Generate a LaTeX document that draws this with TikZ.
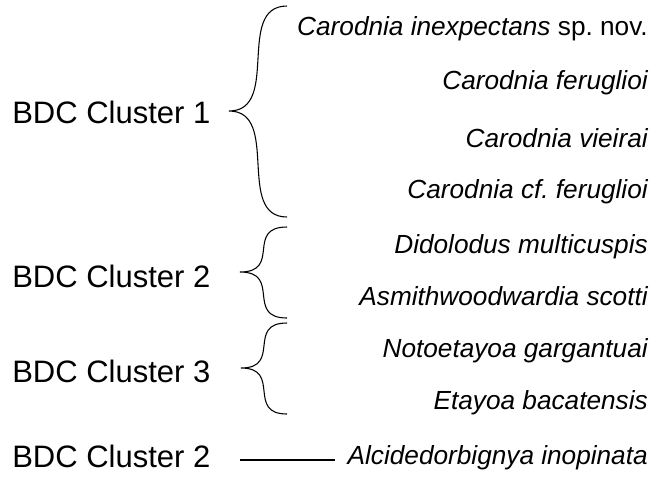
\documentclass[tikz,border=0pt]{standalone}
\usepackage{fontspec}
\setmainfont{Liberation Sans}
\frenchspacing
\begin{document}
\begin{tikzpicture}[x=0.75pt,y=-0.75pt,
  cluster/.style={anchor=base west,inner sep=0pt,font=\fontsize{23.25}{28}\selectfont},
  species/.style={anchor=base east,inner sep=0pt,font=\fontsize{19.65}{24}\selectfont\itshape},
  bracepath/.style={draw=black,line width=0.8pt},
  linkline/.style={draw=black,line width=0.8pt}]
\useasboundingbox (0,0) rectangle (652,480);
% left labels
\node[cluster] (c1) at (12,123) {BDC Cluster 1};
\node[cluster] (c2) at (12,287) {BDC Cluster 2};
\node[cluster] (c3) at (12,382) {BDC Cluster 3};
\node[cluster] (c4) at (12,467) {BDC Cluster 2};
% right labels
\node[species] (s1) at (648,35) {Carodnia inexpectans\upshape{} sp.\ nov.};
\node[species] (s2) at (648,89) {Carodnia feruglioi};
\node[species] (s3) at (648,147) {Carodnia vieirai};
\node[species] (s4) at (648,198) {Carodnia cf.\ feruglioi};
\node[species] (s5) at (648,253) {Didolodus multicuspis};
\node[species] (s6) at (648,305) {Asmithwoodwardia scotti};
\node[species] (s7) at (648,357) {Notoetayoa gargantuai};
\node[species] (s8) at (648,409) {Etayoa bacatensis};
\node[species] (s9) at (648,464) {Alcidedorbignya inopinata};
% brace coordinates
\coordinate (b1t) at (287,6);   \coordinate (b1m) at (229,111); \coordinate (b1b) at (287,217);
\coordinate (b2t) at (287,227); \coordinate (b2m) at (240,272); \coordinate (b2b) at (287,318);
\coordinate (b3t) at (287,323); \coordinate (b3m) at (241,368); \coordinate (b3b) at (287,414);
% braces
\draw[bracepath] (b1t) .. controls (235,6) and (281,111) .. (b1m)
                 .. controls (281,111) and (235,217) .. (b1b);
\draw[bracepath] (b2t) .. controls (245,227) and (282,272) .. (b2m)
                 .. controls (282,272) and (245,318) .. (b2b);
\draw[bracepath] (b3t) .. controls (246,323) and (282,368) .. (b3m)
                 .. controls (282,368) and (246,414) .. (b3b);
% single line
\coordinate (l1) at (240,460);
\coordinate (l2) at (335,460);
\draw[linkline] (l1) -- (l2);
\end{tikzpicture}
\end{document}
